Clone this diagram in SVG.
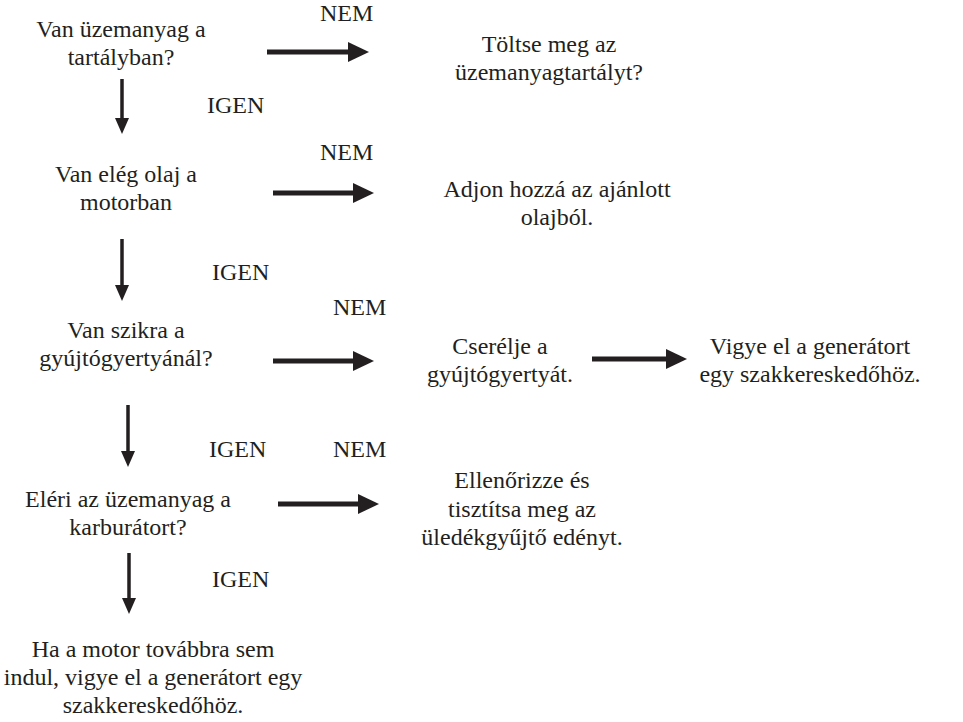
<svg xmlns="http://www.w3.org/2000/svg" width="963" height="722" viewBox="0 0 963 722">
<style>
text{font-family:'Liberation Serif','Times New Roman',Times,serif;font-size:24px;fill:#231f20}
.c{text-anchor:middle}
.h{stroke:#231f20;stroke-width:5;fill:none}
.v{stroke:#231f20;stroke-width:3.5;fill:none}
</style>
<defs>
<marker id="ah" markerUnits="userSpaceOnUse" markerWidth="21" markerHeight="20" refX="0" refY="10" orient="auto"><path d="M0,0 L21,10 L0,20 z" fill="#231f20"/></marker>
<marker id="av" markerUnits="userSpaceOnUse" markerWidth="16" markerHeight="14" refX="0" refY="7" orient="auto"><path d="M0,0 L16,7 L0,14 z" fill="#231f20"/></marker>
</defs>
<rect width="963" height="722" fill="#fff"/>
<g id="connectors">
<line class="h" x1="267" y1="52" x2="348" y2="52" marker-end="url(#ah)"/>
<line class="h" x1="273" y1="193" x2="353" y2="193" marker-end="url(#ah)"/>
<line class="h" x1="273" y1="361" x2="353" y2="361" marker-end="url(#ah)"/>
<line class="h" x1="278" y1="504" x2="358" y2="504" marker-end="url(#ah)"/>
<line class="h" x1="592" y1="359" x2="666" y2="359" marker-end="url(#ah)"/>
<line class="v" x1="122" y1="79" x2="122" y2="118" marker-end="url(#av)"/>
<line class="v" x1="122" y1="239" x2="122" y2="285" marker-end="url(#av)"/>
<line class="v" x1="128" y1="405" x2="128" y2="451" marker-end="url(#av)"/>
<line class="v" x1="129" y1="553" x2="129" y2="598" marker-end="url(#av)"/>
<text x="320" y="21">NEM</text>
<text x="320" y="160">NEM</text>
<text x="333" y="315">NEM</text>
<text x="333" y="457">NEM</text>
<text x="207" y="113">IGEN</text>
<text x="212" y="280">IGEN</text>
<text x="209" y="457">IGEN</text>
<text x="212" y="587">IGEN</text>
</g>
<g id="q1"><text class="c" x="121" y="37">Van üzemanyag a</text><text class="c" x="121" y="65">tartályban?</text></g>
<g id="a1"><text class="c" x="549" y="52">Töltse meg az</text><text class="c" x="549" y="80">üzemanyagtartályt?</text></g>
<g id="q2"><text class="c" x="126" y="182">Van elég olaj a</text><text class="c" x="126" y="210">motorban</text></g>
<g id="a2"><text class="c" x="557" y="197">Adjon hozzá az ajánlott</text><text class="c" x="557" y="225">olajból.</text></g>
<g id="q3"><text class="c" x="126" y="338">Van szikra a</text><text class="c" x="126" y="366">gyújtógyertyánál?</text></g>
<g id="a3"><text class="c" x="500" y="354">Cserélje a</text><text class="c" x="500" y="382">gyújtógyertyát.</text></g>
<g id="a3b"><text class="c" x="810" y="354">Vigye el a generátort</text><text class="c" x="810" y="382">egy szakkereskedőhöz.</text></g>
<g id="q4"><text class="c" x="128" y="507">Eléri az üzemanyag a</text><text class="c" x="128" y="535">karburátort?</text></g>
<g id="a4"><text class="c" x="522" y="488">Ellenőrizze és</text><text class="c" x="522" y="517">tisztítsa meg az</text><text class="c" x="522" y="545">üledékgyűjtő edényt.</text></g>
<g id="end"><text class="c" x="153" y="657">Ha a motor továbbra sem</text><text class="c" x="153" y="685">indul, vigye el a generátort egy</text><text class="c" x="153" y="713">szakkereskedőhöz.</text></g>
</svg>
